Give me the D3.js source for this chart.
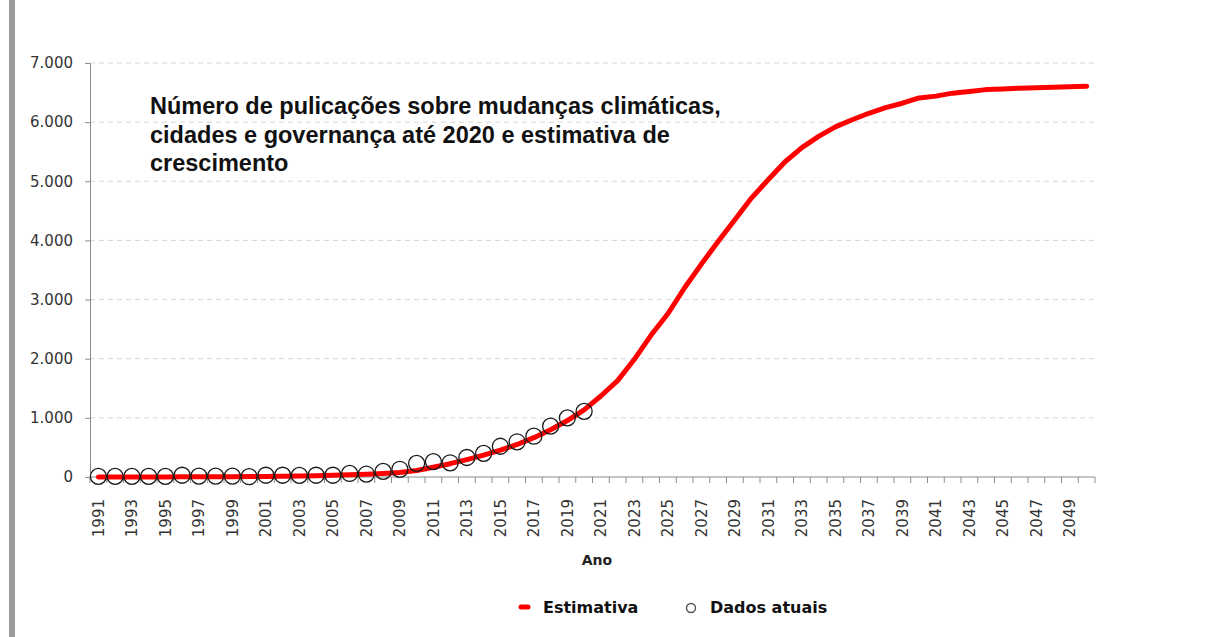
<!DOCTYPE html>
<html>
<head>
<meta charset="utf-8">
<script src="https://cdn.jsdelivr.net/npm/d3@7"></script>
<style>
    body { margin: 0; background: #fff; }
    svg { display: block; }
</style>
</head>
<body>
<script>
(function(){

//pseudo-global variables
var years = d3.range(1991, 2051); //category axis, one per year

//estimated growth curve (red line), 1991-2050
var estimate = [
    0, 1, 1, 2, 2, 3, 4, 5, 6, 8,
    10, 13, 17, 22, 28, 36, 46, 58, 75, 110,
    165, 225, 295, 370, 455, 550, 665, 800, 955, 1135,
    1370, 1630, 1990, 2400, 2760, 3200, 3600, 3980, 4350, 4720,
    5030, 5330, 5570, 5760, 5920, 6040, 6150, 6245, 6320, 6410,
    6440, 6490, 6520, 6550, 6560, 6575, 6580, 6590, 6600, 6605
];

//actual publication counts (circles), 1991-2020
var actual = [
    10, 10, 10, 10, 10, 30, 15, 15, 15, 5,
    30, 30, 28, 30, 30, 60, 50, 95, 130, 230,
    260, 240, 330, 400, 520, 595, 690, 860, 1000, 1110
];

var yTicks = [0, 1000, 2000, 3000, 4000, 5000, 6000, 7000];
var titleLines = [
    "Número de pulicações sobre mudanças climáticas,",
    "cidades e governança até 2020 e estimativa de",
    "crescimento"
];
var legendLabels = ["Estimativa", "Dados atuais"];

//portuguese number format: 7.000
var ptFormat = d3.formatLocale({
    decimal: ",",
    thousands: ".",
    grouping: [3],
    currency: ["", ""]
}).format(",d");

window.onload = setChart();

function setChart(){

    var width = 1208,
        height = 637;

    var svg = d3.select("body")
        .append("svg")
        .attr("width", width)
        .attr("height", height);

    //gray bar on the left edge
    svg.append("rect")
        .attr("x", 9)
        .attr("y", 0)
        .attr("width", 6)
        .attr("height", height)
        .style("fill", "#9b9b9b");

    var x = d3.scaleBand()
        .domain(years)
        .range([90, 1095]);

    var y = d3.scaleLinear()
        .domain([0, 7000])
        .range([477, 63]);

    var cx = function(d){ return x(d) + x.bandwidth() / 2; };

    //dashed gridlines
    svg.selectAll(".grid")
        .data(yTicks.slice(1))
        .enter()
        .append("line")
        .attr("class", "grid")
        .attr("x1", 90)
        .attr("x2", 1095)
        .attr("y1", function(d){ return y(d); })
        .attr("y2", function(d){ return y(d); })
        .style("stroke", "#d6d6d6")
        .style("stroke-width", 1)
        .style("stroke-dasharray", "5,4");

    //y axis
    var yAxis = d3.axisLeft(y)
        .tickValues(yTicks)
        .tickSize(5)
        .tickPadding(12)
        .tickFormat(ptFormat);

    var yG = svg.append("g")
        .attr("transform", "translate(90,0)")
        .call(yAxis);
    yG.select(".domain").style("stroke", "#8c8c8c");
    yG.selectAll(".tick line").style("stroke", "#8c8c8c");
    yG.selectAll(".tick text")
        .style("font-family", "DejaVu Sans")
        .style("font-size", "15px")
        .style("fill", "#333");

    //x axis baseline and ticks between categories
    svg.append("line")
        .attr("x1", 90)
        .attr("x2", 1095)
        .attr("y1", y(0))
        .attr("y2", y(0))
        .style("stroke", "#8c8c8c");

    svg.selectAll(".xtick")
        .data(years.concat([null]))
        .enter()
        .append("line")
        .attr("class", "xtick")
        .attr("x1", function(d){ return d === null ? x.range()[1] : x(d); })
        .attr("x2", function(d){ return d === null ? x.range()[1] : x(d); })
        .attr("y1", y(0))
        .attr("y2", y(0) + 6)
        .style("stroke", "#8c8c8c");

    //rotated year labels, every other year
    svg.selectAll(".xlabel")
        .data(years.filter(function(d, i){ return i % 2 === 0; }))
        .enter()
        .append("text")
        .attr("class", "xlabel")
        .attr("transform", function(d){
            return "translate(" + cx(d) + ",499) rotate(-90)";
        })
        .attr("text-anchor", "end")
        .attr("dy", "0.36em")
        .style("font-family", "DejaVu Sans")
        .style("font-size", "15px")
        .style("fill", "#333")
        .text(function(d){ return d; });

    //axis title
    svg.append("text")
        .attr("x", 597)
        .attr("y", 565)
        .attr("text-anchor", "middle")
        .style("font-family", "DejaVu Sans")
        .style("font-weight", "bold")
        .style("font-size", "14px")
        .style("fill", "#222")
        .text("Ano");

    //estimate line
    var line = d3.line()
        .x(function(d, i){ return cx(years[i]); })
        .y(function(d){ return y(d); });

    svg.append("path")
        .datum(estimate)
        .attr("d", line)
        .style("fill", "none")
        .style("stroke", "#ff0000")
        .style("stroke-width", 5)
        .style("stroke-linecap", "round")
        .style("stroke-linejoin", "round");

    //actual data circles
    svg.selectAll(".dot")
        .data(actual)
        .enter()
        .append("circle")
        .attr("class", "dot")
        .attr("cx", function(d, i){ return cx(years[i]); })
        .attr("cy", function(d){ return y(d); })
        .attr("r", 8)
        .style("fill", "none")
        .style("stroke", "#1a1a1a")
        .style("stroke-width", 1.3);

    //chart title
    var title = svg.append("text")
        .attr("x", 150)
        .attr("y", 114)
        .style("font-family", "Liberation Sans")
        .style("font-weight", "bold")
        .style("font-size", "23.5px")
        .style("fill", "#111");
    title.selectAll("tspan")
        .data(titleLines)
        .enter()
        .append("tspan")
        .attr("x", 150)
        .attr("dy", function(d, i){ return i === 0 ? 0 : 28.5; })
        .text(function(d){ return d; });

    setLegend(svg);
};

//legend below the axis title
function setLegend(svg){
    svg.append("line")
        .attr("x1", 521)
        .attr("x2", 528)
        .attr("y1", 607)
        .attr("y2", 607)
        .style("stroke", "#ff0000")
        .style("stroke-width", 5)
        .style("stroke-linecap", "round");

    svg.append("circle")
        .attr("cx", 691)
        .attr("cy", 608)
        .attr("r", 4.5)
        .style("fill", "none")
        .style("stroke", "#555")
        .style("stroke-width", 1.5);

    svg.selectAll(".legend")
        .data(legendLabels)
        .enter()
        .append("text")
        .attr("class", "legend")
        .attr("x", function(d, i){ return i === 0 ? 543 : 710; })
        .attr("y", 613)
        .style("font-family", "DejaVu Sans")
        .style("font-weight", "bold")
        .style("font-size", "16px")
        .style("fill", "#111")
        .text(function(d){ return d; });
};

})();
</script>
</body>
</html>
